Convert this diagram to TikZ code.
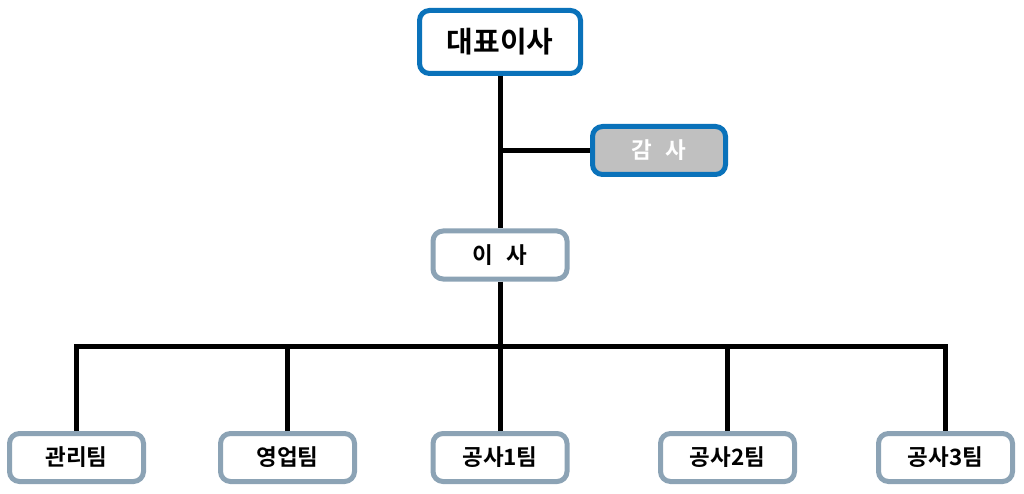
\documentclass[tikz,border=0pt]{standalone}
\usepackage{fontspec}
\newfontfamily\kr{Noto Sans CJK KR Bold}
\definecolor{topblue}{HTML}{0A72BA}
\definecolor{steel}{HTML}{8CA3B5}
\definecolor{audgray}{HTML}{C0C0C0}
\begin{document}
\begin{tikzpicture}[x=1pt,y=-1pt,
  box/.style={draw=steel,fill=white,line width=5pt,rounded corners=10pt,
    minimum width=134pt,minimum height=48pt,inner sep=0pt,
    font=\kr\fontsize{22.5}{26}\selectfont,text=black},
  link/.style={line width=5pt,draw=black}]
\useasboundingbox (0,0) rectangle (1024,494);
\node[box,draw=topblue,minimum width=161pt,minimum height=63pt,
  font=\kr\fontsize{29}{32}\selectfont] (ceo) at (500,42) {대표이사};
\node[box,draw=topblue,fill=audgray,text=white,minimum width=133pt]
  (aud) at (659,150.5) {감\hspace{0.6em}사};
\node[box] (dir) at (500,255) {이\hspace{0.6em}사};
\node[box] (t1) at (76.5,457.5) {관리팀};
\node[box] (t2) at (287.5,457.5) {영업팀};
\node[box] (t3) at (500,457.5) {공사1팀};
\node[box] (t4) at (727.5,457.5) {공사2팀};
\node[box] (t5) at (945.5,457.5) {공사3팀};
\coordinate (bus) at (500,346);
\coordinate (audj) at (500,150.5);
\draw[link] (ceo.south) -- (dir.north);
\draw[link] (audj) -- (aud.west);
\draw[link] (dir.south) -- (bus);
\draw[link,line join=miter] (t1.north) |- (bus) -| (t5.north);
\draw[link] (t2.north) -- (t2.north |- bus);
\draw[link] (t3.north) -- (bus);
\draw[link] (t4.north) -- (t4.north |- bus);
\end{tikzpicture}
\end{document}
